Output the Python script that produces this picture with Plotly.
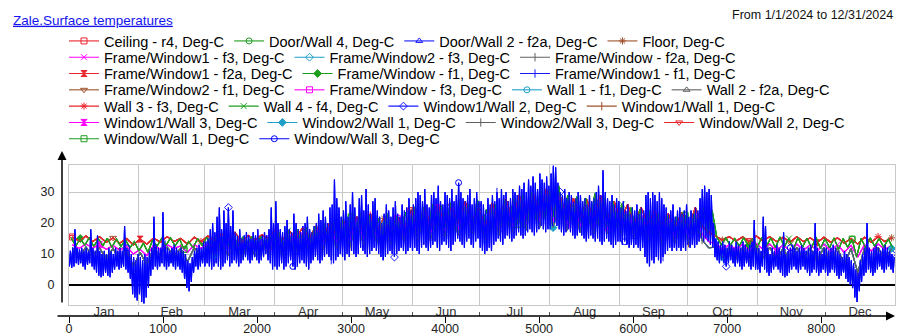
import numpy as np
import plotly.graph_objects as go

W, H = 897, 336


def fx(px):
    return px / W


def fy(py):
    return 1 - py / H


FONT = "Liberation Sans, Arial, sans-serif"

# ---------------- data ----------------
MONTHS = ["Jan", "Feb", "Mar", "Apr", "May", "Jun", "Jul", "Aug", "Sep", "Oct", "Nov", "Dec"]
MONTH_HOURS = [744, 696, 744, 720, 744, 720, 744, 744, 720, 744, 720, 744]
X_TICKS = [0, 1000, 2000, 3000, 4000, 5000, 6000, 7000, 8000]
Y_TICKS = [0, 10, 20, 30]

# daily low / high of the dominant blue series (Window/Wall 3), Deg-C
blue_lo = [
    6, 5.5, 6, 7, 6.5, 7, 6, 5, 6.5, 7, 6, 5, 4, 3, 2.5, 3, 4, 3, 2.5, 4, 5, 6, 5, 5.5, 6, 5, 4, 2, -3, -4, -5,
    -3, -5.5, -6, -4, -1, 3, 5, 6, 5, 6, 7, 6, 5, 6, 7, 6, 5, 6, 5, 4, 2, -1, -2, 1, 4, 6, 5, 6, 7,
    6, 7, 6, 5, 6, 7, 6, 5, 6, 7, 8, 6, 7, 8, 7, 6, 7, 8, 9, 8, 7, 8, 9, 8, 7, 8, 9, 10, 8, 7, 5,
    6, 5, 6, 7, 5, 6, 7, 8, 6, 5, 6, 7, 8, 7, 6, 5, 7, 8, 9, 8, 7, 8, 9, 10, 9, 8, 7, 8, 9, 10,
    9, 8, 10, 9, 11, 10, 9, 10, 12, 11, 10, 9, 10, 11, 12, 11, 10, 9, 8, 9, 10, 11, 10, 9, 10, 11, 12, 11, 10, 11, 12,
    11, 12, 11, 10, 12, 13, 12, 11, 12, 13, 14, 12, 11, 13, 14, 13, 12, 11, 13, 14, 15, 14, 13, 12, 14, 15, 13, 12, 14, 15,
    12, 11, 10, 11, 12, 11, 13, 14, 15, 14, 13, 15, 16, 15, 14, 15, 16, 17, 16, 15, 16, 17, 18, 17, 16, 17, 18, 19, 18, 17, 18,
    18, 19, 20, 19, 18, 17, 16, 17, 18, 17, 16, 15, 16, 17, 16, 15, 14, 15, 16, 15, 14, 15, 14, 13, 14, 15, 14, 13, 12, 13, 14,
    14, 13, 14, 13, 12, 13, 12, 13, 12, 11, 12, 9, 7, 6, 8, 7, 9, 8, 7, 9, 10, 11, 12, 11, 12, 11, 12, 11, 12, 11,
    13, 12, 13, 12, 13, 14, 15, 14, 15, 14, 13, 12, 9, 8, 7, 8, 7, 6, 7, 8, 7, 6, 7, 6, 5, 6, 7, 6, 5, 6, 5,
    5, 4, 6, 5, 4, 3, 4, 5, 6, 5, 4, 3, 2.5, 3, 4, 5, 6, 5, 4, 5, 6, 5, 4, 3, 4, 5, 4, 3, 4, 5,
    4, 3, 4, 5, 4, 3, 2, 3, 4, 2, 1, 0, -1, -4, -5.5, -2, 1, 3, 4, 5, 4, 3, 4, 5, 6, 5, 4, 5, 6, 5, 4,
]
blue_hi = [
    11, 12, 18, 12, 11.5, 12, 11, 12, 11, 18, 12, 11, 16, 11, 10, 11, 10, 12, 11, 10, 12, 11, 12, 11, 19, 12, 11, 10, 9, 8, 10,
    9, 8, 10, 9, 11, 12, 22, 13, 12, 12, 23.5, 13, 12, 11, 12, 13, 12, 11, 12, 11, 10, 8, 7, 9, 11, 12, 13, 12, 14,
    14, 15, 18, 20, 17, 22, 25, 18, 24, 20, 25, 19, 24, 17, 16, 18, 15, 16, 17, 16, 15, 17, 16, 18, 15, 16, 17, 16, 18, 25, 20,
    27, 20, 18, 17, 19, 21, 18, 17, 23, 20, 18, 17, 19, 20, 22, 18, 17, 19, 20, 23, 21, 24, 22, 20, 25, 26, 34, 28, 25, 22,
    24, 27, 22, 26, 30, 25, 22, 28, 29, 24, 31, 26, 23, 27, 28, 24, 22, 20, 23, 26, 24, 22, 25, 27, 23, 22, 26, 24, 25, 28, 24,
    26, 28, 30, 29, 27, 31, 26, 25, 29, 30, 28, 32, 27, 26, 30, 29, 28, 31, 27, 29, 33, 30, 28, 27, 29, 31, 26, 28, 30, 27,
    27, 26, 24, 28, 26, 29, 27, 30, 28, 31, 29, 30, 27, 28, 31, 30, 29, 32, 31, 33, 30, 34, 32, 35, 33, 31, 36, 34, 33, 35, 32,
    36, 38.5, 38, 33, 30, 29, 31, 28, 30, 29, 27, 28, 30, 29, 27, 28, 26, 29, 27, 28, 30, 32, 29, 37, 30, 28, 27, 29, 26, 28, 27,
    25, 27, 24, 26, 23, 25, 24, 26, 23, 25, 24, 29, 30, 28, 30, 29, 27, 30, 28, 26, 25, 23, 24, 26, 22, 24, 25, 23, 24, 26,
    22, 24, 23, 25, 24, 28, 31, 32, 30, 31, 29, 20, 15, 14, 13, 14, 13, 12, 14, 13, 12, 14, 13, 12, 14, 13, 12, 13, 14, 21, 12,
    12, 11, 22, 19, 12, 10, 12, 11, 13, 12, 11, 17, 10, 11, 12, 13, 12, 11, 12, 13, 12, 11, 12, 13, 11, 20, 12, 11, 10, 12,
    12, 11, 12, 13, 12, 11, 10, 9, 11, 10, 9, 8, 7, 5, 4, 8, 10, 12, 20, 12, 11, 12, 13, 12, 11, 12, 13, 12, 11, 10, 9,
]

# green wall surfaces, readings every 2 days (alternating high / low)
green_2day = [
    15.2, 12.6, 15.0, 12.8, 15.3, 12.4, 14.9, 12.7, 15.1, 12.2, 14.8, 12.5, 14.6, 12.0, 14.0, 11.0,
    13.5, 10.5, 14.5, 12.5, 15.0, 12.8, 15.2, 12.6, 14.8, 11.5, 14.0, 12.0, 15.0, 12.8,
    15.4, 12.8, 15.6, 12.5, 16.0, 12.2, 15.8, 12.6, 15.5, 12.8, 15.7, 13.0, 15.6, 12.7, 15.8, 13.0,
    17.0, 12.5, 17.5, 13.0, 18.0, 13.5, 18.5, 13.8, 19.0, 14.0, 19.5, 14.5, 20.5, 14.8, 21.0,
    15.0, 22.0, 15.5, 23.0, 16.0, 22.5, 15.8, 21.5, 16.2, 23.0, 16.5, 22.0, 16.0, 23.5, 16.8,
    24.0, 17.0, 25.0, 17.5, 26.0, 18.0, 25.5, 18.5, 26.5, 18.0, 27.0, 19.0, 26.0, 19.5, 27.5,
    17.5, 24.5, 17.0, 26.0, 18.5, 27.5, 19.0, 28.0, 19.5, 29.0, 20.0, 30.0, 21.0, 31.0, 21.5, 30.5,
    22.0, 32.0, 21.0, 29.0, 20.5, 28.5, 20.0, 28.0, 19.5, 29.5, 19.0, 28.0, 18.5, 27.0, 18.5,
    26.0, 18.0, 25.0, 17.5, 24.5, 17.0, 24.0, 16.5, 23.0, 16.5, 22.5, 16.0, 22.0, 16.0, 22.5,
    16.0, 23.0, 16.5, 25.0, 17.0, 24.0, 15.5, 13.0, 15.2, 12.8, 15.0, 12.5, 15.3, 12.6, 15.1, 12.2,
    15.4, 12.5, 15.2, 12.0, 15.5, 12.4, 15.0, 11.5, 15.3, 12.2, 15.1, 12.0, 15.4, 11.8, 15.0,
    12.0, 15.2, 11.5, 15.0, 12.2, 14.8, 9.0, 15.0, 12.0, 15.2, 12.5, 15.0, 12.2, 14.8, 12.0,
]

# warm surfaces (floor, ceiling...), readings every 3 days
warm_3day = [
    15.5, 14.2, 15.8, 14.0, 15.6, 13.8, 15.2, 13.5, 15.0, 13.0,
    14.8, 13.2, 15.2, 13.8, 15.6, 14.0, 15.0, 13.2, 15.4, 14.0,
    15.8, 14.2, 16.5, 14.5, 17.0, 14.0, 16.0, 14.5, 16.2, 14.8,
    18.0, 14.5, 17.5, 15.0, 18.5, 15.2, 19.0, 15.5, 20.0, 16.0,
    21.0, 16.5, 22.0, 17.0, 22.5, 17.5, 21.5, 17.0, 22.0, 18.0,
    24.0, 18.5, 25.0, 19.0, 26.0, 19.5, 25.5, 20.0, 27.0, 20.5,
    25.0, 19.0, 26.5, 20.0, 28.0, 21.0, 29.0, 22.0, 30.0, 22.5,
    31.0, 23.0, 29.0, 22.0, 28.0, 21.5, 27.5, 21.0, 29.0, 21.0, 27.0,
    21.0, 26.0, 20.0, 25.0, 19.5, 24.0, 19.0, 23.0, 18.5, 23.5,
    18.0, 25.0, 19.0, 17.0, 15.8, 14.5, 15.6, 14.2, 15.5, 14.0,
    15.8, 14.2, 15.6, 14.0, 15.4, 13.8, 15.6, 14.0, 15.2, 13.6,
    15.4, 13.8, 15.2, 13.5, 15.0, 13.2, 15.4, 13.8, 15.6, 14.0, 15.2,
]

# magenta frame surfaces, readings every 3 days
cool_3day = [
    13.0, 11.8, 13.2, 12.0, 13.0, 11.5, 12.8, 11.2, 12.5, 10.0,
    11.5, 9.5, 12.8, 11.5, 13.0, 11.8, 12.6, 10.5, 13.0, 11.8,
    13.2, 12.0, 14.0, 11.8, 14.5, 11.5, 13.5, 12.0, 13.8, 12.2,
    16.0, 11.5, 16.5, 12.5, 17.0, 13.0, 18.0, 13.5, 18.5, 14.0,
    20.0, 14.5, 21.0, 15.0, 22.0, 15.5, 20.5, 15.0, 21.5, 16.0,
    23.0, 16.5, 24.0, 17.0, 25.0, 17.5, 24.5, 18.0, 26.0, 18.5,
    23.5, 16.5, 25.5, 18.0, 27.0, 19.0, 28.5, 19.5, 29.5, 20.5,
    30.0, 20.5, 28.0, 19.5, 27.0, 19.0, 26.5, 18.5, 28.0, 18.5, 25.5,
    18.5, 24.0, 17.5, 23.0, 16.5, 22.0, 16.0, 21.0, 15.5, 21.5,
    15.5, 23.0, 16.5, 14.0, 13.2, 11.5, 13.0, 11.2, 13.2, 11.0,
    13.4, 11.5, 13.2, 11.0, 13.0, 10.8, 13.2, 11.2, 13.0, 11.0,
    13.2, 11.0, 13.0, 10.5, 12.8, 9.0, 13.0, 11.0, 13.2, 11.5, 12.8,
]

# other frame / wall surfaces, readings every 3 days
frame_3day = [
    12.0, 9.0, 12.2, 9.5, 12.0, 8.5, 11.8, 8.0, 11.5, 6.0,
    10.5, 6.5, 12.0, 9.0, 12.2, 9.5, 11.8, 7.5, 12.0, 9.5,
    12.5, 9.5, 13.5, 9.5, 14.0, 9.0, 13.0, 9.5, 13.2, 10.0,
    15.5, 9.5, 16.0, 10.5, 16.5, 11.0, 17.5, 11.5, 18.0, 12.0,
    19.5, 12.5, 20.5, 13.0, 21.5, 13.5, 20.0, 13.0, 21.0, 14.0,
    22.5, 14.5, 23.5, 15.0, 24.5, 15.5, 24.0, 16.0, 25.5, 16.5,
    23.0, 14.5, 25.0, 16.0, 26.5, 17.0, 28.0, 17.5, 29.0, 18.5,
    29.5, 18.5, 27.5, 17.5, 26.5, 17.0, 26.0, 16.5, 27.5, 16.5, 25.0,
    16.5, 23.5, 15.5, 22.5, 14.5, 21.5, 14.0, 20.5, 13.5, 21.0,
    13.5, 22.5, 14.5, 12.0, 12.2, 9.0, 12.0, 8.5, 12.2, 8.0,
    12.4, 8.5, 12.2, 8.0, 12.0, 7.5, 12.2, 8.0, 12.0, 7.5,
    12.2, 7.5, 12.0, 6.5, 11.8, 4.0, 12.0, 7.0, 12.2, 8.0, 11.8,
]

# series: label, colour, marker, profile
SERIES = [
    ("Ceiling - r4", "#e8262d", "square-open", "warm"),
    ("Door/Wall 4", "#1e9e1e", "circle-open", "green"),
    ("Door/Wall 2 - f2a", "#1a1aff", "triangle-up-open", "frame"),
    ("Floor", "#a0522d", "asterisk-open", "warm"),
    ("Frame/Window1 - f3", "#ff00ff", "x-thin-open", "cool"),
    ("Frame/Window2 - f3", "#1ea0c8", "diamond-open", "frame"),
    ("Frame/Window - f2a", "#606060", "line-ns-open", "frame"),
    ("Frame/Window1 - f2a", "#e8262d", "hourglass", "warm"),
    ("Frame/Window - f1", "#1e9e1e", "diamond", "green"),
    ("Frame/Window1 - f1", "#1a1aff", "line-ns-open", "blue"),
    ("Frame/Window2 - f1", "#a0522d", "triangle-down-open", "warm"),
    ("Frame/Window - f3", "#ff00ff", "square-open", "cool"),
    ("Wall 1 - f1", "#1ea0c8", "circle-open", "frame"),
    ("Wall 2 - f2a", "#606060", "triangle-up-open", "frame"),
    ("Wall 3 - f3", "#e8262d", "asterisk-open", "warm"),
    ("Wall 4 - f4", "#1e9e1e", "x-thin-open", "green"),
    ("Window1/Wall 2", "#1a1aff", "diamond-open", "blue"),
    ("Window1/Wall 1", "#a0522d", "line-ns-open", "frame"),
    ("Window1/Wall 3", "#ff00ff", "hourglass", "cool"),
    ("Window2/Wall 1", "#1ea0c8", "diamond", "frame"),
    ("Window2/Wall 3", "#606060", "line-ns-open", "frame"),
    ("Window/Wall 2", "#e8262d", "triangle-down-open", "warm"),
    ("Window/Wall 1", "#1e9e1e", "square-open", "green"),
    ("Window/Wall 3", "#0000ff", "circle-open", "blue"),
]
LEGEND_ROWS = [[0, 1, 2, 3], [4, 5, 6], [7, 8, 9], [10, 11, 12, 13],
               [14, 15, 16, 17], [18, 19, 20, 21], [22, 23]]

# ---------------- series coordinates ----------------
TOTAL_H = sum(MONTH_HOURS)
bounds = np.cumsum([0] + MONTH_HOURS)
mids = (bounds[:-1] + bounds[1:]) / 2

days = np.arange(len(blue_lo))
blue_x = np.column_stack([days * 24 + 5, days * 24 + 15]).ravel()
blue_y = np.column_stack([blue_lo, blue_hi]).ravel()


def spaced(vals):
    n = len(vals)
    return (np.arange(n) + 0.5) * TOTAL_H / n, np.array(vals, dtype=float)


PROFILES = {
    "blue": (blue_x, blue_y),
    "green": spaced(green_2day),
    "warm": spaced(warm_3day),
    "cool": spaced(cool_3day),
    "frame": spaced(frame_3day),
}

row_of = {}
for r, items in enumerate(LEGEND_ROWS):
    for i in items:
        row_of[i] = r

fig = go.Figure()
for i, (label, color, symbol, prof) in enumerate(SERIES):
    xs, ys = PROFILES[prof]
    r = row_of[i]
    fig.add_trace(go.Scatter(
        x=xs, y=ys, mode="lines+markers",
        name=f"{label}, Deg-C",
        line=dict(color=color, width=1.1),
        marker=dict(symbol=symbol, size=6, color=color,
                    line=dict(color=color, width=1), maxdisplayed=5),
        legend="legend" if r == 0 else f"legend{r + 1}",
        hoverinfo="skip",
    ))

# carriers for the month-label axis and the numeric hour axis (no points)
fig.add_trace(go.Scatter(x=[], y=[], xaxis="x2", yaxis="y", mode="lines",
                         showlegend=False, hoverinfo="skip"))
fig.add_trace(go.Scatter(x=[], y=[], xaxis="x3", yaxis="y", mode="lines",
                         showlegend=False, hoverinfo="skip"))

# ---------------- layout ----------------
ROW_Y0, ROW_DY = 41, 16.3
legends = {}
for r in range(len(LEGEND_ROWS)):
    key = "legend" if r == 0 else f"legend{r + 1}"
    legends[key] = dict(
        orientation="h", x=fx(64), xanchor="left",
        y=fy(ROW_Y0 + r * ROW_DY), yanchor="middle",
        font=dict(family=FONT, size=14.5, color="#000"),
        bgcolor="rgba(0,0,0,0)", borderwidth=0,
        traceorder="normal", itemwidth=30,
    )

GRID = "#c8c8c8"
fig.update_layout(
    width=W, height=H,
    margin=dict(l=0, r=0, t=0, b=0, autoexpand=False),
    paper_bgcolor="white", plot_bgcolor="white",
    font=dict(family=FONT, color="#222"),
    hovermode=False,
    title=dict(text="Zale.Surface temperatures", x=fx(13), xanchor="left",
               y=fy(20), yanchor="middle", automargin=False,
               font=dict(family=FONT, size=13.5, color="#1414f0", lineposition="under")),
    xaxis=dict(
        domain=[fx(69), fx(895)], range=[0, TOTAL_H], anchor="y",
        tickmode="array", tickvals=list(bounds[1:-1]), showticklabels=False,
        ticks="", showgrid=True, gridcolor=GRID, gridwidth=1.2,
        zeroline=False, automargin=False,
        showline=True, linecolor=GRID, linewidth=1, mirror=True,
        fixedrange=True,
    ),
    xaxis3=dict(
        overlaying="x", anchor="free", position=fy(302), side="bottom",
        range=[0, TOTAL_H], autorange=False,
        tickmode="array", tickvals=list(mids), ticktext=MONTHS,
        ticks="", ticklen=0, showgrid=False, zeroline=False, showline=False,
        automargin=False, tickfont=dict(family=FONT, size=13, color="#333"),
        fixedrange=True,
    ),
    xaxis2=dict(
        overlaying="x", anchor="free", position=fy(316), side="bottom",
        range=[0, TOTAL_H], autorange=False, tickmode="array", tickvals=X_TICKS,
        ticks="outside", ticklen=6, tickcolor="#000", tickwidth=1,
        ticklabelstandoff=-5,
        showgrid=False, zeroline=False, showline=False, automargin=False,
        tickfont=dict(family=FONT, size=12.5, color="#222"),
        minor=dict(tickmode="array", tickvals=list(bounds[1:-1]), ticks="inside",
                   ticklen=4, tickcolor="#555", showgrid=False),
        fixedrange=True,
    ),
    yaxis=dict(
        domain=[fy(305), fy(165)], range=[-6.45, 38.71], anchor="x",
        tickmode="array", tickvals=Y_TICKS, ticks="", automargin=False,
        showgrid=True, gridcolor=GRID, gridwidth=1.2,
        zeroline=True, zerolinecolor="#000", zerolinewidth=1.6,
        showline=True, linecolor=GRID, linewidth=1, mirror=True,
        tickfont=dict(family=FONT, size=12.5, color="#222"), ticklabelstandoff=11,
        fixedrange=True,
    ),
    annotations=[
        dict(text="From 1/1/2024 to 12/31/2024", x=fx(895), y=fy(15),
             xref="paper", yref="paper", xanchor="right", yanchor="middle",
             showarrow=False, font=dict(family=FONT, size=12.5, color="#111")),
        dict(text="", x=fx(62), y=fy(151), xref="paper", yref="paper",
             ax=0, ay=153, showarrow=True, arrowhead=2, arrowsize=1.2,
             arrowwidth=1.5, arrowcolor="#000", standoff=0),
        dict(text="", x=fx(895), y=fy(316), xref="paper", yref="paper",
             ax=-839, ay=0, showarrow=True, arrowhead=2, arrowsize=1.2,
             arrowwidth=1.5, arrowcolor="#000", standoff=0),
    ],
    **legends,
)

fig.write_html("out.html")
